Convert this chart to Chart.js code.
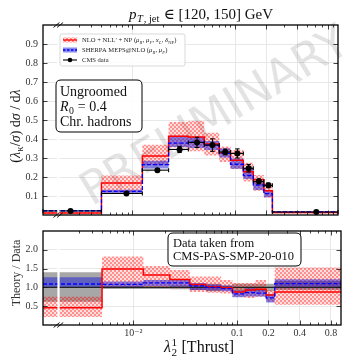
<!DOCTYPE html>
<html><head><meta charset="utf-8">
<script src="https://cdn.jsdelivr.net/npm/chart.js@4"></script>
<style>
html,body{margin:0;padding:0;background:#fff;}
#wrap{position:relative;width:342px;height:359px;overflow:hidden;background:#fff;}
canvas{position:absolute;left:0;}
#top{top:0;} #bot{top:220px;}
</style></head><body>
<div id="wrap"><canvas id="bot" width="342" height="139"></canvas><canvas id="top" width="342" height="226"></canvas></div>
<script>
// ---------------- data ----------------
const binEdges = [0, 0.005, 0.0125, 0.0225, 0.035, 0.05, 0.07, 0.09, 0.12, 0.15, 0.19, 0.23, 1.0];

const cmsData = [0.021, 0.113, 0.236, 0.345, 0.382, 0.368, 0.332, 0.324, 0.246, 0.177, 0.156, 0.0155];
const cmsErr  = [0.006, 0.005, 0.008, 0.016, 0.027, 0.033, 0.015, 0.024, 0.020, 0.013, 0.012, 0.002];

const nllCentral = [0.010, 0.168, 0.311, 0.414, 0.410, 0.374, 0.328, 0.288, 0.228, 0.185, 0.127, 0.0137];
const nllLow     = [0.004, 0.118, 0.262, 0.355, 0.335, 0.313, 0.279, 0.242, 0.176, 0.128, 0.092, 0.008];
const nllHigh    = [0.016, 0.208, 0.370, 0.490, 0.495, 0.433, 0.360, 0.342, 0.275, 0.210, 0.167, 0.021];

const sherpaCentral = [0.0225, 0.124, 0.265, 0.378, 0.383, 0.367, 0.325, 0.267, 0.208, 0.158, 0.112, 0.0167];
const sherpaLow     = [0.020, 0.116, 0.245, 0.358, 0.352, 0.342, 0.302, 0.243, 0.190, 0.132, 0.094, 0.0152];
const sherpaHigh    = [0.026, 0.133, 0.285, 0.417, 0.410, 0.390, 0.350, 0.298, 0.248, 0.178, 0.125, 0.0185];

const ratioNll      = [0.46, 1.49, 1.33, 1.21, 1.08, 1.02, 0.99, 0.88, 0.93, 0.95, 0.80, 0.88];
const ratioNllLow   = [0.21, 1.02, 1.00, 0.98, 0.875, 0.86, 0.84, 0.75, 0.72, 0.75, 0.62, 0.54];
const ratioNllHigh  = [0.75, 1.82, 1.57, 1.46, 1.29, 1.29, 1.20, 1.12, 1.12, 1.20, 0.92, 1.53];

const ratioSherpa     = [1.09, 1.08, 1.12, 1.12, 1.04, 1.00, 0.97, 0.83, 0.86, 0.85, 0.72, 1.10];
const ratioSherpaLow  = [1.00, 1.00, 1.04, 1.02, 0.93, 0.92, 0.90, 0.74, 0.76, 0.76, 0.60, 0.98];
const ratioSherpaHigh = [1.27, 1.16, 1.20, 1.20, 1.12, 1.08, 1.05, 0.92, 0.98, 0.95, 0.82, 1.22];

const dataRatio     = [1, 1, 1, 1, 1, 1, 1, 1, 1, 1, 1, 1];
const dataRatioLow  = [0.62, 0.96, 0.96, 0.95, 0.93, 0.90, 0.95, 0.90, 0.90, 0.90, 0.90, 0.93];
const dataRatioHigh = [1.40, 1.04, 1.04, 1.05, 1.07, 1.10, 1.05, 1.10, 1.10, 1.10, 1.10, 1.17];

const xTickValues = [0.01, 0.1, 0.2, 0.4, 0.8];
const xTickLabels = ['10\u207B\u00B2', '0.1', '0.2', '0.4', '0.8'];
const xMinorTicks = [0.003, 0.004, 0.005, 0.006, 0.007, 0.008, 0.009,
                     0.02, 0.03, 0.04, 0.05, 0.06, 0.07, 0.08, 0.09,
                     0.3, 0.5, 0.6, 0.7, 0.9];
const yTopTicks   = [0.1, 0.2, 0.3, 0.4, 0.5, 0.6, 0.7, 0.8, 0.9];
const yRatioTicks = [0.5, 1.0, 1.5, 2.0];

const X_MIN = 0.00135, X_MAX = 1.0, BREAK_AT = 0.0019;
const FONT = '"Liberation Serif", "DejaVu Serif", serif';

// ---------------- helpers ----------------
const nB = binEdges.length - 1;
function stepData(vals) {
  const pts = vals.map((v, i) => ({x: Math.max(binEdges[i], X_MIN), y: v}));
  pts.push({x: binEdges[nB], y: vals[nB - 1]});
  return pts;
}
const binCenters = binEdges.slice(0, -1).map((e, i) => (e + binEdges[i + 1]) / 2);

function makeHatch(canvasId) {
  const c = document.createElement('canvas'); c.width = 4; c.height = 4;
  const g = c.getContext('2d');
  g.fillStyle = 'rgba(255,0,0,0.13)'; g.fillRect(0, 0, 4, 4);
  g.fillStyle = 'rgba(255,0,0,0.36)'; g.fillRect(0, 0, 2, 2); g.fillRect(2, 2, 2, 2);
  return document.getElementById(canvasId).getContext('2d').createPattern(c, 'repeat');
}
const BLUE_BAND = 'rgba(25,25,215,0.5)';
const GREY_BAND = 'rgba(95,95,95,0.55)';

function drawRich(ctx, parts, x, y, size, align) {
  const fontFor = (it, sz) => `${it ? 'italic ' : ''}${sz}px ${FONT}`;
  const items = []; let w = 0;
  for (const p of parts) {
    ctx.font = fontFor(p.it, size);
    const mw = p.t ? ctx.measureText(p.t).width : 0;
    let sw = 0, uw = 0;
    if (p.sub) { ctx.font = fontFor(p.subIt, size * 0.7); sw = ctx.measureText(p.sub).width; }
    if (p.sup) { ctx.font = fontFor(p.supIt, size * 0.7); uw = ctx.measureText(p.sup).width; }
    const pw = mw + Math.max(sw, uw) + ((p.sub || p.sup) ? size * 0.06 : 0);
    items.push({p, mw, pw}); w += pw;
  }
  let cx = align === 'center' ? x - w / 2 : (align === 'right' ? x - w : x);
  ctx.textBaseline = 'alphabetic'; ctx.textAlign = 'left';
  for (const {p, mw, pw} of items) {
    if (p.t) { ctx.font = fontFor(p.it, size); ctx.fillText(p.t, cx, y); }
    const sx = cx + mw + size * 0.03;
    if (p.sub) { ctx.font = fontFor(p.subIt, size * 0.7); ctx.fillText(p.sub, sx, y + size * 0.22); }
    if (p.sup) { ctx.font = fontFor(p.supIt, size * 0.7); ctx.fillText(p.sup, sx, y - size * 0.4); }
    cx += pw;
  }
  return w;
}
function roundRect(ctx, x0, y0, x1, y1, r) {
  ctx.beginPath();
  ctx.moveTo(x0 + r, y0); ctx.lineTo(x1 - r, y0); ctx.quadraticCurveTo(x1, y0, x1, y0 + r);
  ctx.lineTo(x1, y1 - r); ctx.quadraticCurveTo(x1, y1, x1 - r, y1);
  ctx.lineTo(x0 + r, y1); ctx.quadraticCurveTo(x0, y1, x0, y1 - r);
  ctx.lineTo(x0, y0 + r); ctx.quadraticCurveTo(x0, y0, x0 + r, y0); ctx.closePath();
}
function seg(ctx, x0, y0, x1, y1) { ctx.beginPath(); ctx.moveTo(x0, y0); ctx.lineTo(x1, y1); ctx.stroke(); }

function xScale(showLabels, height) {
  return {
    type: 'logarithmic', min: X_MIN, max: X_MAX,
    afterBuildTicks: s => { s.ticks = xTickValues.concat(xMinorTicks).map(v => ({value: v})); },
    ticks: { display: showLabels, autoSkip: false, maxRotation: 0, minRotation: 0, padding: 2,
             color: '#333', font: {family: FONT, size: 10},
             callback: v => { const i = xTickValues.indexOf(v); return i >= 0 ? xTickLabels[i] : ''; } },
    grid: { drawTicks: false, lineWidth: 0.8,
            color: c => (c.tick && xTickValues.includes(c.tick.value)) ? '#e2e2e2' : 'rgba(0,0,0,0)' },
    border: { display: false },
    afterFit: s => { s.height = height; }
  };
}
function yScale(min, max, ticks) {
  return {
    type: 'linear', min, max,
    afterBuildTicks: s => { s.ticks = ticks.map(v => ({value: v})); },
    ticks: { padding: 5, color: '#333', font: {family: FONT, size: 10}, callback: v => v.toFixed(1) },
    grid: { drawTicks: false, color: '#e2e2e2', lineWidth: 0.8 },
    border: { display: false },
    afterFit: s => { s.width = 43; }
  };
}
function frameTicks(chart) {
  const {ctx, chartArea: a, scales: {x, y}} = chart;
  ctx.save(); ctx.strokeStyle = '#111'; ctx.lineWidth = 0.8;
  for (const t of x.ticks) {
    const px = Math.round(x.getPixelForValue(t.value)) + 0.5;
    if (px < a.left || px > a.right) continue;
    const L = xTickValues.includes(t.value) ? 4.5 : 2.5;
    seg(ctx, px, a.bottom, px, a.bottom - L); seg(ctx, px, a.top, px, a.top + L);
  }
  for (const t of y.ticks) {
    const py = Math.round(y.getPixelForValue(t.value)) + 0.5;
    seg(ctx, a.left, py, a.left + 4.5, py); seg(ctx, a.right, py, a.right - 4.5, py);
  }
  ctx.lineWidth = 1.3; ctx.strokeStyle = '#000';
  ctx.strokeRect(a.left, a.top, a.right - a.left, a.bottom - a.top);
  ctx.restore();
}
function breakGap(chart) {
  const {ctx, chartArea: a, scales: {x}} = chart;
  const bx = x.getPixelForValue(BREAK_AT);
  ctx.save(); ctx.fillStyle = '#fff'; ctx.fillRect(bx - 1, a.top, 2.2, a.bottom - a.top); ctx.restore();
}
function breakMarks(chart, ys) {
  const {ctx, scales: {x}} = chart;
  const bx = x.getPixelForValue(BREAK_AT);
  ctx.save(); ctx.strokeStyle = '#000'; ctx.lineWidth = 0.9;
  for (const yy of ys) {
    for (const off of [-1.8, 1.8]) seg(ctx, bx + off - 3, yy + 2.5, bx + off + 3, yy - 2.5);
  }
  ctx.restore();
}
function stepSet(label, vals, opts) {
  return Object.assign({label, data: stepData(vals), stepped: true, pointRadius: 0, pointHitRadius: 0,
    borderWidth: 0, borderColor: 'rgba(0,0,0,0)', backgroundColor: 'rgba(0,0,0,0)', fill: false}, opts);
}

// ---------------- top panel ----------------
const hatchTop = makeHatch('top');
const topPlugin = {
  id: 'topDecor',
  beforeDatasetsDraw(chart) {
    const {ctx} = chart;
    ctx.save();
    ctx.translate(216, 118); ctx.rotate(-31 * Math.PI / 180);
    ctx.font = '46px "DejaVu Sans", sans-serif'; ctx.fillStyle = 'rgba(0,0,0,0.11)';
    ctx.textAlign = 'center'; ctx.textBaseline = 'middle';
    ctx.fillText('PRELIMINARY', 0, 0);
    ctx.restore();
  },
  beforeDatasetDraw(chart, args) {
    if (args.index !== 6) return;
    const {ctx, scales: {x, y}} = chart;
    ctx.save(); ctx.strokeStyle = '#000'; ctx.lineWidth = 1.1;
    for (let i = 0; i < nB; i++) {
      const xl = x.getPixelForValue(Math.max(binEdges[i], X_MIN)), xr = x.getPixelForValue(binEdges[i + 1]);
      const cx = x.getPixelForValue(binCenters[i]), cy = y.getPixelForValue(cmsData[i]);
      const yt = y.getPixelForValue(cmsData[i] + cmsErr[i]), yb = y.getPixelForValue(cmsData[i] - cmsErr[i]);
      seg(ctx, xl, cy, xr, cy); seg(ctx, xl, cy - 2, xl, cy + 2); seg(ctx, xr, cy - 2, xr, cy + 2);
      seg(ctx, cx, yt, cx, yb); seg(ctx, cx - 2.2, yt, cx + 2.2, yt); seg(ctx, cx - 2.2, yb, cx + 2.2, yb);
    }
    ctx.restore();
  },
  afterDatasetsDraw(chart) {
    const {ctx} = chart;
    breakGap(chart);
    // legend
    ctx.save();
    roundRect(ctx, 60, 34, 185, 66, 2);
    ctx.fillStyle = 'rgba(255,255,255,0.85)'; ctx.fill();
    ctx.strokeStyle = '#cfcfcf'; ctx.lineWidth = 0.8; ctx.stroke();
    const ds = chart.data.datasets;
    ctx.fillStyle = hatchTop; ctx.fillRect(63, 37.5, 14, 5);
    ctx.strokeStyle = ds[4].borderColor; ctx.lineWidth = 1.3; seg(ctx, 63, 40, 77, 40);
    ctx.fillStyle = BLUE_BAND; ctx.fillRect(63, 47.5, 14, 5);
    ctx.strokeStyle = ds[5].borderColor; ctx.setLineDash([2.5, 1.5]); seg(ctx, 63, 50, 77, 50); ctx.setLineDash([]);
    ctx.strokeStyle = '#000'; ctx.lineWidth = 1.1; seg(ctx, 63, 60, 77, 60);
    ctx.fillStyle = '#000'; ctx.beginPath(); ctx.arc(70, 60, 2.3, 0, Math.PI * 2); ctx.fill();
    ctx.fillStyle = '#222';
    drawRich(ctx, [{t: 'NLO + NLL\u2032 + NP ('}, {t: '\u03BC', it: true, sub: 'R', subIt: true}, {t: ', '},
      {t: '\u03BC', it: true, sub: 'F', subIt: true}, {t: ', '}, {t: 'x', it: true, sub: 'L', subIt: true},
      {t: ', '}, {t: '\u03B4', it: true, sub: 'NP'}, {t: ')'}], 82, 42.2, 6.6, 'left');
    drawRich(ctx, [{t: 'SHERPA MEPS@NLO ('}, {t: '\u03BC', it: true, sub: 'R', subIt: true}, {t: ', '},
      {t: '\u03BC', it: true, sub: 'F', subIt: true}, {t: ')'}], 82, 52.2, 6.6, 'left');
    drawRich(ctx, [{t: 'CMS data'}], 82, 62.2, 6.6, 'left');
    roundRect(ctx, 56, 80, 142, 132, 5);
    ctx.fillStyle = 'rgba(255,255,255,0.9)'; ctx.fill();
    ctx.strokeStyle = '#000'; ctx.lineWidth = 1; ctx.stroke();
    ctx.fillStyle = '#111';
    drawRich(ctx, [{t: 'Ungroomed'}], 60, 96, 14, 'left');
    drawRich(ctx, [{t: 'R', it: true, sub: '0'}, {t: ' = 0.4'}], 60, 111, 14, 'left');
    drawRich(ctx, [{t: 'Chr. hadrons'}], 60, 126, 14, 'left');
    ctx.restore();
  },
  afterDraw(chart) {
    const {ctx, chartArea: a} = chart;
    frameTicks(chart);
    breakMarks(chart, [a.top, a.bottom]);
    ctx.save(); ctx.fillStyle = '#111';
    drawRich(ctx, [{t: 'p', it: true, sub: 'T', subIt: true}, {t: '', sub: ', jet'}, {t: ' \u2208 [120, 150] GeV'}], 201, 19, 15, 'center');
    ctx.translate(15, 126); ctx.rotate(-Math.PI / 2);
    drawRich(ctx, [{t: '('}, {t: '\u03BB', it: true, sub: '\u03BA'}, {t: '/'}, {t: '\u03C3', it: true},
      {t: ') d'}, {t: '\u03C3', it: true}, {t: ' / d'}, {t: '\u03BB', it: true}], 0, 5, 14, 'center');
    ctx.restore();
  }
};

new Chart(document.getElementById('top'), {
  type: 'line',
  data: { datasets: [
    stepSet('NLO + NLL\u2032 + NP low', nllLow, {order: 9}),
    stepSet('NLO + NLL\u2032 + NP high', nllHigh, {order: 8, fill: '-1', backgroundColor: hatchTop}),
    stepSet('SHERPA low', sherpaLow, {order: 7}),
    stepSet('SHERPA high', sherpaHigh, {order: 6, fill: '-1', backgroundColor: BLUE_BAND}),
    stepSet('NLO + NLL\u2032 + NP', nllCentral, {order: 3, borderWidth: 1.5, borderColor: '#ff0000'}),
    stepSet('SHERPA MEPS@NLO', sherpaCentral, {order: 2, borderWidth: 1.3, borderColor: '#0000ff', borderDash: [4, 2]}),
    { label: 'CMS data', data: binCenters.map((c, i) => ({x: c, y: cmsData[i]})), showLine: false, order: 0,
      pointRadius: 3, pointBorderWidth: 0, pointBackgroundColor: '#000', borderColor: '#000' }
  ]},
  options: {
    responsive: false, animation: false, devicePixelRatio: 1, events: [],
    layout: { padding: {left: 0, right: 1, top: 25, bottom: 1} },
    plugins: { legend: {display: false}, tooltip: {enabled: false} },
    scales: { x: xScale(false, 0), y: yScale(0, 1.0, yTopTicks) }
  },
  plugins: [topPlugin]
});

// ---------------- ratio panel ----------------
const hatchBot = makeHatch('bot');
const botPlugin = {
  id: 'botDecor',
  afterDatasetsDraw(chart) {
    const {ctx} = chart;
    breakGap(chart);
    ctx.save();
    roundRect(ctx, 168, 13, 301, 46, 5);
    ctx.fillStyle = 'rgba(255,255,255,0.9)'; ctx.fill();
    ctx.strokeStyle = '#000'; ctx.lineWidth = 1; ctx.stroke();
    ctx.fillStyle = '#111';
    drawRich(ctx, [{t: 'Data taken from'}], 173, 26.5, 12.5, 'left');
    drawRich(ctx, [{t: 'CMS-PAS-SMP-20-010'}], 173, 39.5, 12.5, 'left');
    ctx.restore();
  },
  afterDraw(chart) {
    const {ctx, chartArea: a} = chart;
    frameTicks(chart);
    breakMarks(chart, [a.bottom]);
    ctx.save(); ctx.fillStyle = '#111';
    drawRich(ctx, [{t: '\u03BB', it: true, sub: '2', sup: '1'}, {t: ' [Thrust]'}], 199, 132, 16, 'center');
    ctx.translate(16, 53); ctx.rotate(-Math.PI / 2);
    ctx.fillStyle = '#333';
    drawRich(ctx, [{t: 'Theory / Data'}], 0, 4, 12, 'center');
    ctx.restore();
  }
};

new Chart(document.getElementById('bot'), {
  type: 'line',
  data: { datasets: [
    stepSet('data unc low', dataRatioLow, {order: 12}),
    stepSet('data unc high', dataRatioHigh, {order: 11, fill: '-1', backgroundColor: GREY_BAND}),
    stepSet('NLL ratio low', ratioNllLow, {order: 10}),
    stepSet('NLL ratio high', ratioNllHigh, {order: 9, fill: '-1', backgroundColor: hatchBot}),
    stepSet('SHERPA ratio low', ratioSherpaLow, {order: 8}),
    stepSet('SHERPA ratio high', ratioSherpaHigh, {order: 7, fill: '-1', backgroundColor: BLUE_BAND}),
    stepSet('data / data', dataRatio, {order: 4, borderWidth: 1.1, borderColor: '#222'}),
    stepSet('NLL / data', ratioNll, {order: 3, borderWidth: 1.5, borderColor: '#ff0000'}),
    stepSet('SHERPA / data', ratioSherpa, {order: 2, borderWidth: 1.3, borderColor: '#0000ff', borderDash: [4, 2]})
  ]},
  options: {
    responsive: false, animation: false, devicePixelRatio: 1, events: [],
    layout: { padding: {left: 0, right: 1, top: 5, bottom: 0} },
    plugins: { legend: {display: false}, tooltip: {enabled: false} },
    scales: { x: xScale(true, 34), y: yScale(0, 2.5, yRatioTicks) }
  },
  plugins: [botPlugin]
});
</script>
</body></html>
